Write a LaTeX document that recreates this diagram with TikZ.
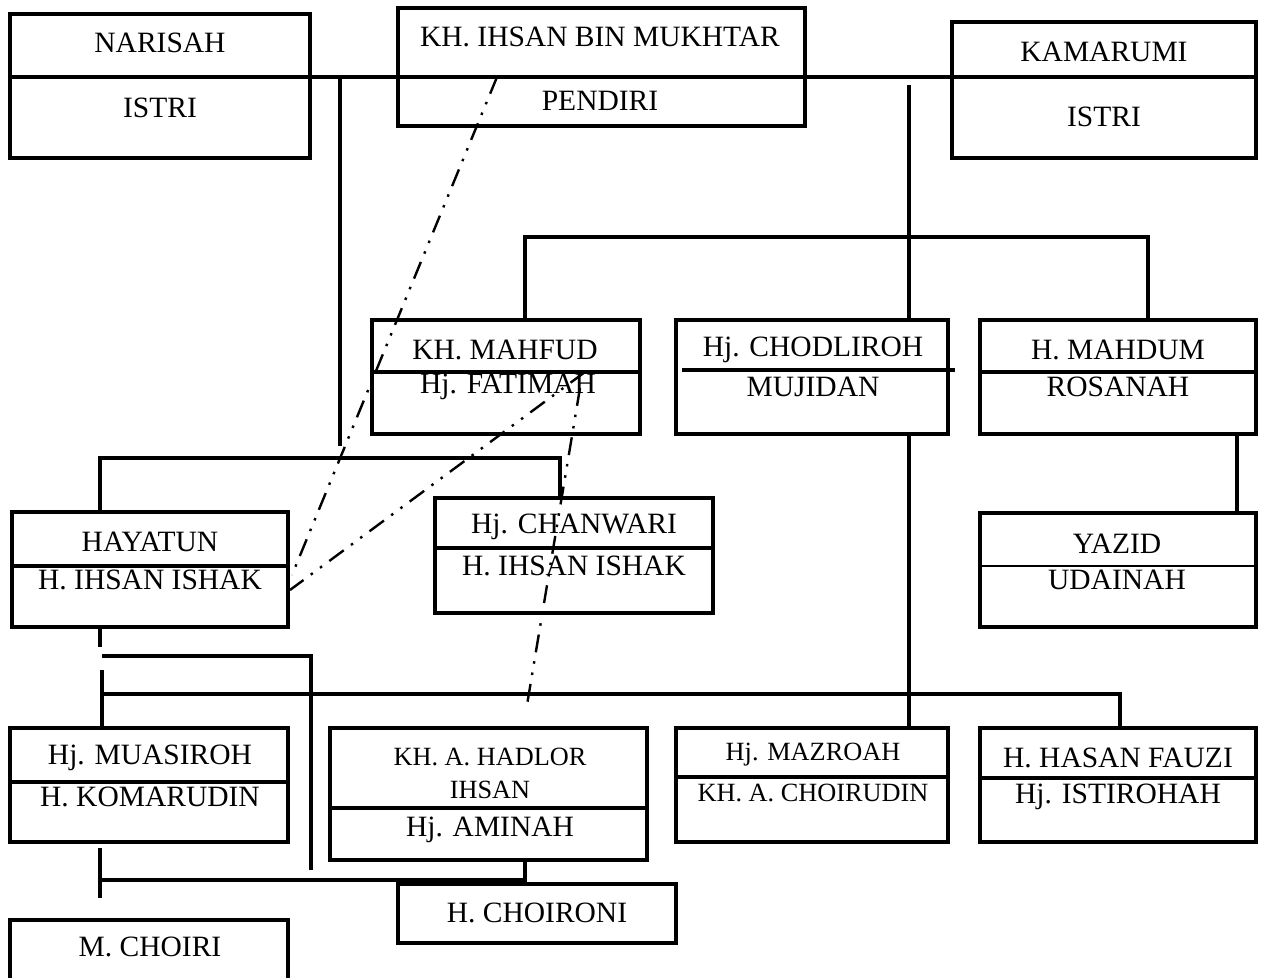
\documentclass[tikz,border=0pt]{standalone}
\usepackage{fontspec}
\setmainfont{Liberation Serif}
\begin{document}
\begin{tikzpicture}[x=1pt,y=-1pt,
  box/.style={draw, line width=3.3pt, inner sep=0pt},
  conn/.style={line width=3.3pt},
  divline/.style={line width=3.3pt},
  thindiv/.style={line width=1.6pt},
  ddot/.style={line width=2.4pt, dash pattern=on 18pt off 9pt on 2.5pt off 9pt on 2.5pt off 9pt},
  lbl/.style={inner sep=0pt, font=\fontsize{29.5}{32}\selectfont},
  slbl/.style={inner sep=0pt, font=\fontsize{26.3}{29}\selectfont}]
\useasboundingbox (0,0) rectangle (1266,977);

% boxes
\node[box, minimum width=300pt, minimum height=144pt] (narisah) at (160,86) {};
\node[box, minimum width=407pt, minimum height=118pt] (ihsan) at (601.5,67) {};
\node[box, minimum width=304pt, minimum height=136pt] (kamarumi) at (1104,90) {};
\node[box, minimum width=268pt, minimum height=114pt] (mahfud) at (506,377) {};
\node[box, minimum width=272pt, minimum height=114pt] (chodliroh) at (812,377) {};
\node[box, minimum width=276pt, minimum height=114pt] (mahdum) at (1118,377) {};
\node[box, minimum width=276pt, minimum height=115pt] (hayatun) at (150,569.5) {};
\node[box, minimum width=278pt, minimum height=115pt] (chanwari) at (574,555.5) {};
\node[box, minimum width=276pt, minimum height=114pt] (yazid) at (1118,570) {};
\node[box, minimum width=278pt, minimum height=114pt] (muasiroh) at (149,785) {};
\node[box, minimum width=317pt, minimum height=132pt] (hadlor) at (488.5,794) {};
\node[box, minimum width=272pt, minimum height=114pt] (mazroah) at (812,785) {};
\node[box, minimum width=276pt, minimum height=114pt] (fauzi) at (1118,785) {};
\node[box, minimum width=278pt, minimum height=59pt] (choironi) at (537,913.5) {};
\node[box, minimum width=278pt, minimum height=80pt] (choiri) at (149,960) {};

% helper coordinates
\coordinate (y77) at (0,77);
\coordinate (x909) at (909,0);
\coordinate (x525) at (525,0);
\coordinate (x1148) at (1148,0);
\coordinate (x1237) at (1237,0);
\coordinate (x100) at (100,0);
\coordinate (x102) at (102,0);
\coordinate (x560) at (560,0);
\coordinate (x1120) at (1120,0);

% dividers
\draw[divline] (narisah.west |- y77) -- (kamarumi.east |- y77);
\draw[divline] (mahfud.west |- 0,372) -- (mahfud.east |- 0,372);
\draw[divline] (682,370) -- (955,370);
\draw[divline] (mahdum.west |- 0,372) -- (mahdum.east |- 0,372);
\draw[divline] (hayatun.west |- 0,566) -- (hayatun.east |- 0,566);
\draw[divline] (chanwari.west |- 0,548) -- (chanwari.east |- 0,548);
\draw[thindiv] (yazid.west |- 0,566) -- (yazid.east |- 0,566);
\draw[divline] (muasiroh.west |- 0,782) -- (muasiroh.east |- 0,782);
\draw[divline] (hadlor.west |- 0,808) -- (hadlor.east |- 0,808);
\draw[divline] (mazroah.west |- 0,777) -- (mazroah.east |- 0,777);
\draw[divline] (fauzi.west |- 0,778) -- (fauzi.east |- 0,778);

% connectors
\coordinate (a1) at (340,77);
\coordinate (a2) at (340,446);
\draw[conn] (a1) -- (a2);
\coordinate (b1) at (909,85);
\draw[conn] (b1) -- (chodliroh.north -| x909);
\coordinate (c1) at (525,237);
\coordinate (c2) at (1148,237);
\draw[conn] (mahfud.north -| x525) -- (c1) -- (c2) -- (mahdum.north -| x1148);
\draw[conn] (chodliroh.south -| x909) -- (mazroah.north -| x909);
\draw[conn] (mahdum.south -| x1237) -- (yazid.north -| x1237);
\coordinate (d1) at (100,458);
\coordinate (d2) at (560,458);
\draw[conn] (hayatun.north -| x100) -- (d1) -- (d2) -- (chanwari.north -| x560);
\coordinate (e1) at (100,647);
\draw[conn] (hayatun.south -| x100) -- (e1);
\coordinate (f1) at (102,656);
\coordinate (f2) at (311,656);
\coordinate (f3) at (311,870);
\draw[conn] (f1) -- (f2) -- (f3);
\coordinate (g1) at (102,670);
\coordinate (g2) at (102,694);
\coordinate (g3) at (1120,694);
\draw[conn] (g1) -- (muasiroh.north -| x102);
\draw[conn] (g2) -- (g3) -- (fauzi.north -| x1120);
\coordinate (h1) at (100,848);
\coordinate (h2) at (100,898);
\coordinate (h3) at (100,880);
\coordinate (h4) at (525,880);
\draw[conn] (h1) -- (h2);
\draw[conn] (h3) -- (h4) -- (hadlor.south -| x525);

% dash-dot-dot lines
\coordinate (k1) at (497,77);
\coordinate (k2) at (292,575);
\coordinate (m1) at (585,372);
\coordinate (m2) at (290,590);
\coordinate (n1) at (580,388);
\coordinate (n2) at (527,705);
\draw[ddot] (k1) -- (k2);
\draw[ddot] (m1) -- (m2);
\draw[ddot] (n1) -- (n2);

% texts
\node[lbl] (tnarisah) at (160,43) {NARISAH};
\node[lbl] (tistri1) at (160,108) {ISTRI};
\node[lbl] (tihsan) at (600,37) {KH. IHSAN BIN MUKHTAR};
\node[lbl] (tpendiri) at (600,101) {PENDIRI};
\node[lbl] (tkamarumi) at (1104,52) {KAMARUMI};
\node[lbl] (tistri2) at (1104,117) {ISTRI};
\node[lbl] (tmahfud) at (505,350) {KH. MAHFUD};
\node[lbl] (tfatimah) at (508,387) {Hj. FATIMAH};
\node[lbl] (tchodliroh) at (813,350) {Hj. CHODLIROH};
\node[lbl] (tmujidan) at (813,387) {MUJIDAN};
\node[lbl] (tmahdum) at (1118,350) {H. MAHDUM};
\node[lbl] (trosanah) at (1118,387) {ROSANAH};
\node[lbl] (thayatun) at (150,542) {HAYATUN};
\node[lbl] (tishak1) at (150,580) {H. IHSAN ISHAK};
\node[lbl] (tchanwari) at (574,527) {Hj. CHANWARI};
\node[lbl] (tishak2) at (574,566) {H. IHSAN ISHAK};
\node[lbl] (tyazid) at (1117,544) {YAZID};
\node[lbl] (tudainah) at (1117,580) {UDAINAH};
\node[lbl] (tmuasiroh) at (150,758) {Hj. MUASIROH};
\node[lbl] (tkomarudin) at (150,797) {H. KOMARUDIN};
\node[slbl] (thadlor) at (490,757) {KH. A. HADLOR};
\node[slbl] (tihsan2) at (490,790) {IHSAN};
\node[lbl] (taminah) at (490,830) {Hj. AMINAH};
\node[slbl] (tmazroah) at (813,755) {Hj. MAZROAH};
\node[slbl] (tchoirudin) at (813,793) {KH. A. CHOIRUDIN};
\node[lbl] (tfauzi) at (1118,758) {H. HASAN FAUZI};
\node[lbl] (tistirohah) at (1118,797) {Hj. ISTIROHAH};
\node[lbl] (tchoironi) at (537,913) {H. CHOIRONI};
\node[lbl] (tchoiri) at (150,947) {M. CHOIRI};
\end{tikzpicture}
\end{document}
